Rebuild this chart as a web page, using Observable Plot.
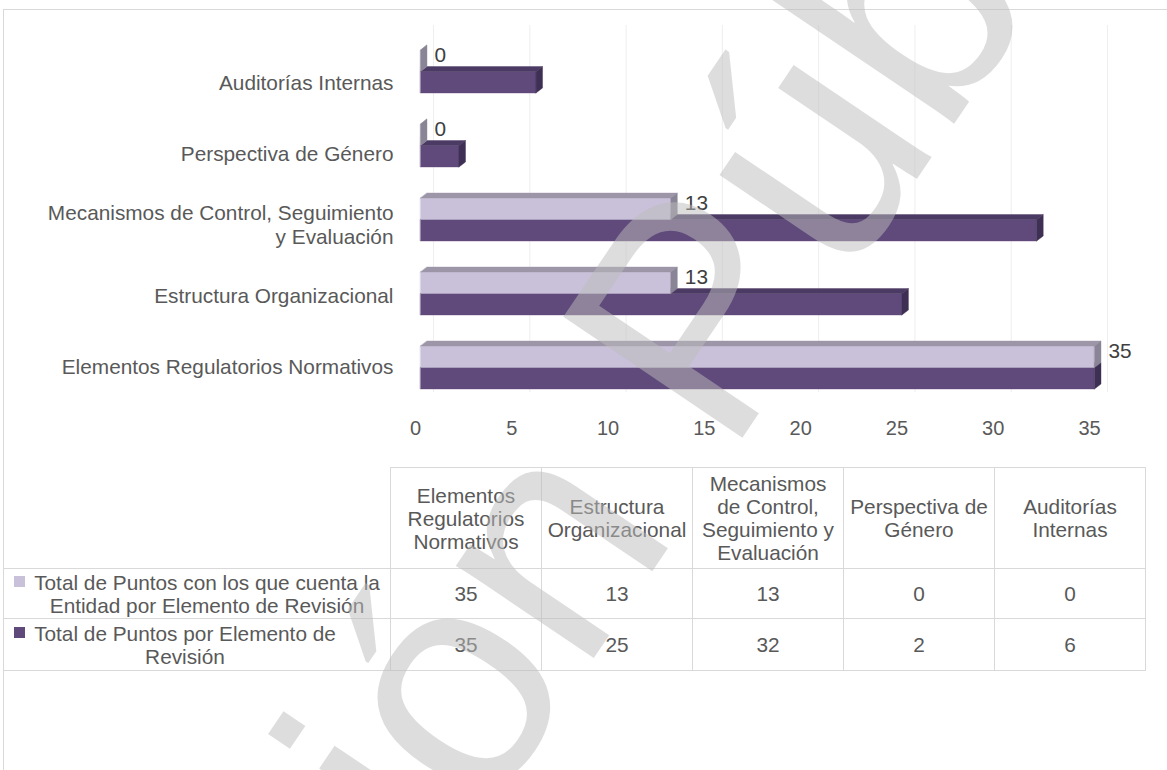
<!DOCTYPE html>
<html><head><meta charset="utf-8">
<script src="https://cdn.jsdelivr.net/npm/d3@7"></script>
<script src="https://cdn.jsdelivr.net/npm/@observablehq/plot@0.6"></script>
<style>
body{margin:0;background:#fff;font-family:"Liberation Sans",Arial,sans-serif;}
#wrap{position:relative;width:1167px;height:770px;overflow:hidden;background:#fff;}
#frame{position:absolute;left:3px;top:9px;width:1300px;height:900px;border-left:1px solid #d9d9d9;border-top:1px solid #d9d9d9;}
#chart{position:absolute;left:0;top:0;}
#tbl{position:absolute;left:3px;top:467px;border-collapse:collapse;table-layout:fixed;font-size:20.8px;color:#595959;}
#tbl td{border:1px solid #d9d9d9;text-align:center;padding:0 4px;line-height:23px;vertical-align:middle;}
#tbl td.corner{border-top:none;border-left:none;}
#tbl td.rh{position:relative;text-align:left;padding:0 4px 0 30px;}
#tbl .key{position:absolute;left:10px;width:11px;height:11px;}
#tbl .lbl{display:inline-block;text-align:center;max-width:350px;}
#wm{position:absolute;left:0;top:0;pointer-events:none;}
</style>
</head><body>
<div id="wrap">
<div id="frame"></div>
<div id="chart"></div>
<table id="tbl"></table>
<svg id="wm" width="1167" height="770"></svg>
</div>
<script>
// ---- data ----
const categories = ["Elementos Regulatorios Normativos", "Estructura Organizacional", "Mecanismos de Control, Seguimiento y Evaluación", "Perspectiva de Género", "Auditorías Internas"];
const axisLabels = ["Elementos Regulatorios Normativos", "Estructura Organizacional", "Mecanismos de Control, Seguimiento\ny Evaluación", "Perspectiva de Género", "Auditorías Internas"];
const entidad = [35, 13, 13, 0, 0];
const total = [35, 25, 32, 2, 6];
const seriesNames = ["Total de Puntos con los que cuenta la Entidad por Elemento de Revisión", "Total de Puntos por Elemento de Revisión"];
const xTicks = [0, 5, 10, 15, 20, 25, 30, 35];
const watermark = "Versión Pública";

// ---- styles ----
const light = {front: "#c9c1d9", top: "#9c96a8", side: "#8a8596", key: "#c9c1d9"};
const dark = {front: "#604a7b", top: "#4b3a63", side: "#3e3054", key: "#604a7b"};
const txt = "#595959";

// 3D box geometry (converted to data units)
const n = categories.length;
const xMax = 35, pxPerUnitX = 674 / xMax, pxPerUnitY = 74;
const h = 21.5 / pxPerUnitY, ox = 6.5 / pxPerUnitX, oy = 5 / pxPerUnitY;

const faces = [];
function addBar(id, v, yTop, yBot, pal) {
  faces.push({id: id + "f", c: pal.front, pts: [[0, yTop], [v, yTop], [v, yBot], [0, yBot]]});
  faces.push({id: id + "t", c: pal.top, pts: [[0, yTop], [v, yTop], [v + ox, yTop - oy], [ox, yTop - oy]]});
  faces.push({id: id + "s", c: pal.side, pts: [[v, yTop], [v + ox, yTop - oy], [v + ox, yBot - oy], [v, yBot]]});
}
categories.forEach((c, k) => { const i = n - 1 - k; addBar("d" + k, total[k], i, i + h, dark); });
categories.forEach((c, k) => { const i = n - 1 - k; addBar("l" + k, entidad[k], i - h, i, light); });
const facePts = faces.flatMap(f => f.pts.map(([x, y]) => ({id: f.id, c: f.c, x, y})));

const labelRows = categories.map((c, k) => ({k, i: n - 1 - k, label: axisLabels[k], ent: entidad[k]}));

const plot = Plot.plot({
  width: 1167, height: 460,
  marginLeft: 420, marginRight: 73, marginTop: 25, marginBottom: 20,
  style: {fontFamily: "'Liberation Sans', Arial, sans-serif", background: "transparent"},
  x: {domain: [0, xMax], axis: null},
  y: {domain: [0, n - 1], range: [71, 367], axis: null},
  color: {type: "identity"},
  marks: [
    Plot.ruleX(xTicks, {x: d => d, dx: 13, insetBottom: 48, stroke: "#eeeeee"}),
    Plot.line(facePts, {x: "x", y: "y", z: "id", fill: "c", stroke: "c", strokeWidth: 0.4, curve: "linear-closed"}),
    Plot.text(labelRows, {x: "ent", y: d => d.i - h / 2, dx: 14, dy: -5, text: d => String(d.ent), textAnchor: "start", fill: "#404040", fontSize: 20.8}),
    Plot.text(labelRows, {frameAnchor: "left", y: d => (11 + 71 * d.i) / pxPerUnitY, dx: -27, text: "label", textAnchor: "end", fill: txt, fontSize: 20.8, lineHeight: 1.15}),
    Plot.text(xTicks, {x: d => d, frameAnchor: "bottom", dx: -5, dy: -6, text: d => String(d), fill: txt, fontSize: 20})
  ]
});
document.getElementById("chart").appendChild(plot);

// ---- data table ----
const tbl = document.getElementById("tbl");
const cg = document.createElement("colgroup");
[387, 151, 151, 151, 151, 151].forEach(w => { const c = document.createElement("col"); c.style.width = w + "px"; cg.appendChild(c); });
tbl.appendChild(cg);
const hr = tbl.insertRow(); hr.style.height = "101px";
const corner = hr.insertCell(); corner.className = "corner";
categories.forEach(c => { const td = hr.insertCell(); td.textContent = c; });
const lbls = [];
[[seriesNames[0], entidad, light.key, 50], [seriesNames[1], total, dark.key, 52]].forEach(([name, vals, col, rh]) => {
  const tr = tbl.insertRow(); tr.style.height = rh + "px";
  const th = tr.insertCell(); th.className = "rh";
  const key = document.createElement("span"); key.className = "key"; key.style.background = col; key.style.top = (rh / 2 - 18) + "px";
  th.appendChild(key);
  const lb = document.createElement("div"); lb.className = "lbl"; lb.textContent = name;
  th.appendChild(lb); lbls.push(lb);
  vals.forEach(v => { const td = tr.insertCell(); td.textContent = v; });
});
// shrink each label block to its widest line so lines centre within it
lbls.forEach(lb => {
  const r = document.createRange(); r.selectNodeContents(lb);
  const w = Math.max(...Array.from(r.getClientRects()).map(q => q.width));
  lb.style.width = Math.ceil(w) + "px";
});

// ---- watermark ----
const wm = d3.select("#wm");
wm.append("text").attr("transform", "translate(630,456) rotate(-56)")
  .attr("text-anchor", "middle").attr("dominant-baseline", "middle")
  .attr("font-family", "'Liberation Sans', Arial, sans-serif").attr("font-size", 314)
  .attr("fill", "#bcbcbc").attr("fill-opacity", 0.5).text(watermark);
</script>
</body></html>
